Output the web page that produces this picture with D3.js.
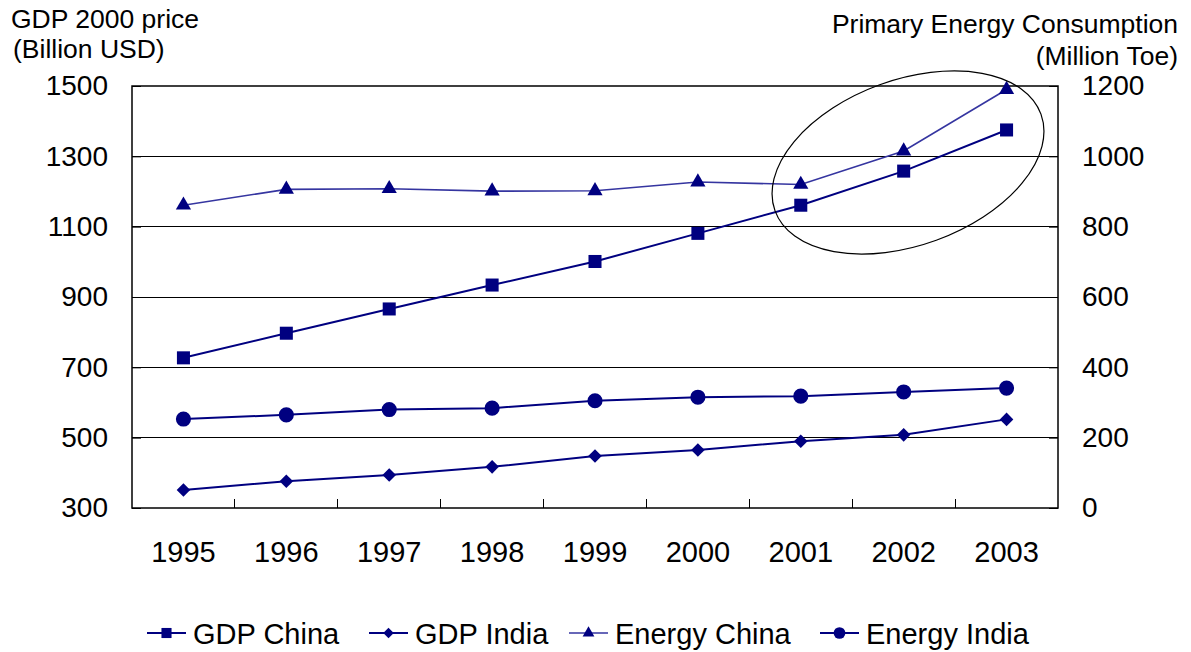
<!DOCTYPE html>
<html>
<head>
<meta charset="utf-8">
<script src="https://cdn.jsdelivr.net/npm/d3@7"></script>
<style>
  html, body { margin: 0; padding: 0; background: #fff; }
  svg { display: block; font-family: Arial, "Liberation Sans", sans-serif; }
</style>
</head>
<body>
<svg id="chart" width="1191" height="652"></svg>
<script>
// Years on the category axis
const years = ["1995", "1996", "1997", "1998", "1999", "2000", "2001", "2002", "2003"];

// GDP at 2000 prices, billion USD (left axis)
const gdpChina = [727, 797, 866, 934, 1001, 1081, 1161, 1258, 1375];
const gdpIndia = [351, 376, 394, 417, 448, 465, 490, 508, 552];

// Primary energy consumption, million toe (right axis)
const energyChina = [861, 906, 908, 901, 902, 927, 920, 1015, 1190];
const energyIndia = [253, 265, 280, 284, 305, 315, 318, 330, 341];

// Axis tick values
const leftTicks = [300, 500, 700, 900, 1100, 1300, 1500];
const rightTicks = [0, 200, 400, 600, 800, 1000, 1200];

const navy = "#000080";
const svg = d3.select("#chart");

const plot = { left: 132, right: 1058, top: 86, bottom: 508 };

const x = d3.scaleBand().domain(years).range([plot.left, plot.right]).padding(0);
const yLeft = d3.scaleLinear().domain([300, 1500]).range([plot.bottom, plot.top]);
const yRight = d3.scaleLinear().domain([0, 1200]).range([plot.bottom, plot.top]);
const cx = d => x(d) + x.bandwidth() / 2;
const plain = d3.format("d");

// Horizontal gridlines
svg.append("g")
  .selectAll("line")
  .data(leftTicks.slice(1, -1))
  .join("line")
  .attr("x1", plot.left).attr("x2", plot.right)
  .attr("y1", d => yLeft(d)).attr("y2", d => yLeft(d))
  .attr("stroke", "#000").attr("stroke-width", 1).attr("shape-rendering", "crispEdges");

// Left axis with inward ticks
const gL = svg.append("g").attr("transform", `translate(${plot.left},0)`)
  .call(d3.axisLeft(yLeft).tickValues(leftTicks).tickFormat(plain).tickSize(-9).tickPadding(24));
gL.select(".domain").remove();
gL.selectAll("line").attr("stroke", "#000");
gL.selectAll("text").attr("font-size", 28).attr("fill", "#000")
  .attr("font-family", "Arial, 'Liberation Sans', sans-serif");

// Right axis with inward ticks
const gR = svg.append("g").attr("transform", `translate(${plot.right},0)`)
  .call(d3.axisRight(yRight).tickValues(rightTicks).tickFormat(plain).tickSize(-9).tickPadding(24));
gR.select(".domain").remove();
gR.selectAll("line").attr("stroke", "#000");
gR.selectAll("text").attr("font-size", 28).attr("fill", "#000")
  .attr("font-family", "Arial, 'Liberation Sans', sans-serif");

// Category labels
const gB = svg.append("g").attr("transform", `translate(0,${plot.bottom})`)
  .call(d3.axisBottom(x).tickSize(0).tickPadding(33));
gB.select(".domain").remove();
gB.selectAll("text").attr("font-size", 29).attr("fill", "#000")
  .attr("font-family", "Arial, 'Liberation Sans', sans-serif");

// Category boundary ticks along the bottom edge
svg.append("g")
  .selectAll("line")
  .data(years.slice(1))
  .join("line")
  .attr("x1", d => x(d)).attr("x2", d => x(d))
  .attr("y1", plot.bottom).attr("y2", plot.bottom - 9)
  .attr("stroke", "#000").attr("stroke-width", 1).attr("shape-rendering", "crispEdges");

// Plot frame
svg.append("rect")
  .attr("x", plot.left).attr("y", plot.top)
  .attr("width", plot.right - plot.left).attr("height", plot.bottom - plot.top)
  .attr("fill", "none").attr("stroke", "#000").attr("stroke-width", 1.5);

// Axis titles
svg.append("text").attr("x", 11).attr("y", 28).attr("font-size", 26.5).text("GDP 2000 price");
svg.append("text").attr("x", 13).attr("y", 58).attr("font-size", 26.5).text("(Billion USD)");
svg.append("text").attr("x", 1178).attr("y", 33).attr("font-size", 26.5).attr("text-anchor", "end").text("Primary Energy Consumption");
svg.append("text").attr("x", 1178).attr("y", 65).attr("font-size", 26.5).attr("text-anchor", "end").text("(Million Toe)");

// Series definitions
const series = [
  { name: "GDP China", values: gdpChina, y: yLeft, symbol: d3.symbolSquare, size: 170, rotate: 0, color: navy, width: 2 },
  { name: "GDP India", values: gdpIndia, y: yLeft, symbol: d3.symbolSquare, size: 92, rotate: 45, color: navy, width: 2 },
  { name: "Energy China", values: energyChina, y: yRight, symbol: d3.symbolTriangle, size: 100, rotate: 0, color: "#3535a0", width: 1.6 },
  { name: "Energy India", values: energyIndia, y: yRight, symbol: d3.symbolCircle, size: 180, rotate: 0, color: navy, width: 2 }
];

const line = (s) => d3.line().x((d, i) => cx(years[i])).y(d => s.y(d));

series.forEach(s => {
  svg.append("path")
    .datum(s.values)
    .attr("d", line(s))
    .attr("fill", "none")
    .attr("stroke", s.color)
    .attr("stroke-width", s.width);
  svg.append("g")
    .selectAll("path")
    .data(s.values)
    .join("path")
    .attr("d", d3.symbol().type(s.symbol).size(s.size))
    .attr("transform", (d, i) => `translate(${cx(years[i])},${s.y(d)}) rotate(${s.rotate})`)
    .attr("fill", navy);
});

// Highlight ellipse around the recent surge
svg.append("ellipse")
  .attr("cx", 908).attr("cy", 162.5)
  .attr("rx", 141.5).attr("ry", 82.7)
  .attr("transform", "rotate(-20,908,162.5)")
  .attr("fill", "none").attr("stroke", "#000").attr("stroke-width", 1.2);

// Legend
const legendItems = [
  { s: series[0], x: 147 },
  { s: series[1], x: 369 },
  { s: series[2], x: 569 },
  { s: series[3], x: 820 }
];
const legendY = 633;
const lg = svg.append("g");
legendItems.forEach(item => {
  const g = lg.append("g").attr("transform", `translate(${item.x},${legendY})`);
  g.append("line").attr("x1", 0).attr("x2", 39).attr("y1", 0).attr("y2", 0)
    .attr("stroke", item.s.color).attr("stroke-width", item.s.width);
  g.append("path")
    .attr("d", d3.symbol().type(item.s.symbol).size(item.s.size * 0.6))
    .attr("transform", `translate(19.5,0) rotate(${item.s.rotate})`)
    .attr("fill", navy);
  g.append("text").attr("x", 46).attr("y", 10.5).attr("font-size", 29).text(item.s.name);
});
</script>
</body>
</html>
